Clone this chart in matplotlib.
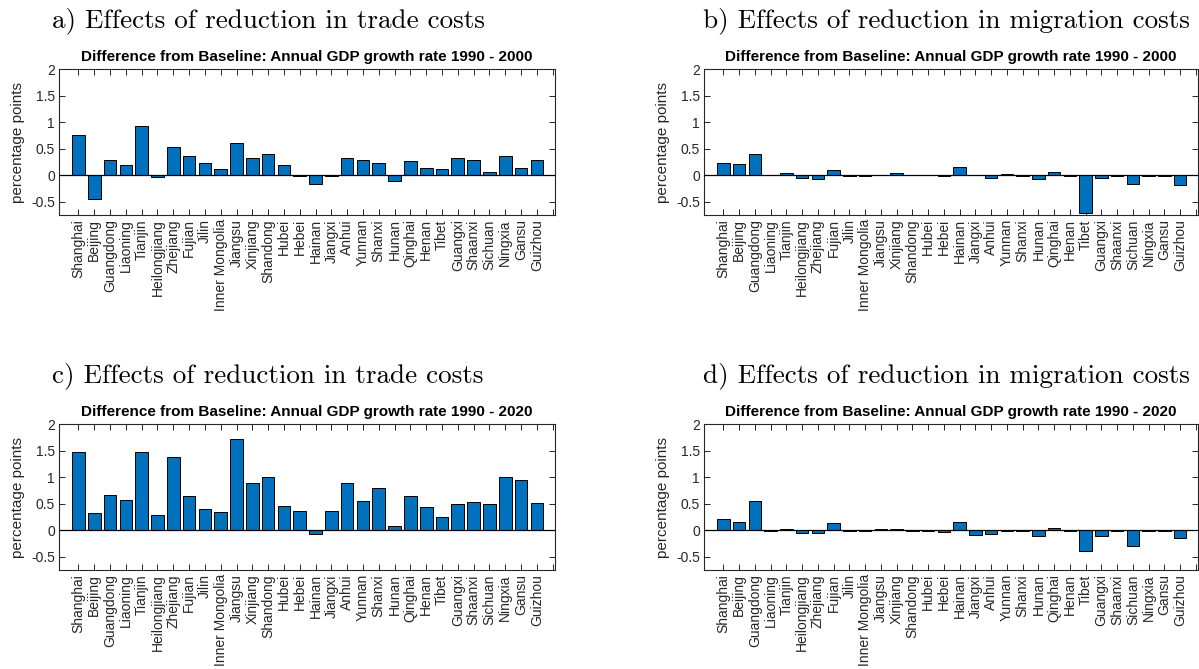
import matplotlib
matplotlib.use("Agg")
import matplotlib.pyplot as plt
import numpy as np

# Provinces in display order
provinces = ["Shanghai", "Beijing", "Guangdong", "Liaoning", "Tianjin", "Heilongjiang",
             "Zhejiang", "Fujian", "Jilin", "Inner Mongolia", "Jiangsu", "Xinjiang",
             "Shandong", "Hubei", "Hebei", "Hainan", "Jiangxi", "Anhui", "Yunnan",
             "Shanxi", "Hunan", "Qinghai", "Henan", "Tibet", "Guangxi", "Shaanxi",
             "Sichuan", "Ningxia", "Gansu", "Guizhou"]

# Difference from baseline, annual GDP growth (percentage points)
trade_1990_2000 = [0.76, -0.45, 0.28, 0.20, 0.93, -0.04, 0.54, 0.36, 0.23, 0.11,
                   0.61, 0.33, 0.40, 0.20, -0.01, -0.17, -0.02, 0.33, 0.29, 0.24,
                   -0.11, 0.27, 0.13, 0.11, 0.32, 0.28, 0.07, 0.37, 0.13, 0.28]
migration_1990_2000 = [0.24, 0.21, 0.40, 0.005, 0.04, -0.055, -0.065, 0.10, -0.02, -0.005,
                       0.01, 0.04, 0.0, 0.01, -0.02, 0.15, 0.0, -0.057, 0.02, -0.01,
                       -0.076, 0.07, -0.01, -0.72, -0.057, -0.015, -0.165, -0.02, -0.005, -0.18]
trade_1990_2020 = [1.48, 0.33, 0.66, 0.58, 1.48, 0.28, 1.38, 0.64, 0.41, 0.34,
                   1.72, 0.90, 1.00, 0.46, 0.37, -0.07, 0.36, 0.89, 0.56, 0.79,
                   0.08, 0.64, 0.44, 0.25, 0.49, 0.54, 0.49, 1.00, 0.94, 0.51]
migration_1990_2020 = [0.215, 0.165, 0.55, -0.01, 0.025, -0.045, -0.06, 0.14, -0.02, -0.01,
                       0.02, 0.02, -0.01, -0.01, -0.03, 0.16, -0.08, -0.07, -0.005, -0.02,
                       -0.11, 0.045, -0.01, -0.39, -0.11, -0.01, -0.30, -0.01, -0.01, -0.145]

panel_titles = ["a) Effects of reduction in trade costs",
                "b) Effects of reduction in migration costs",
                "c) Effects of reduction in trade costs",
                "d) Effects of reduction in migration costs"]
axes_titles = ["Difference from Baseline: Annual GDP growth rate 1990 - 2000",
               "Difference from Baseline: Annual GDP growth rate 1990 - 2000",
               "Difference from Baseline: Annual GDP growth rate 1990 - 2020",
               "Difference from Baseline: Annual GDP growth rate 1990 - 2020"]
series = [trade_1990_2000, migration_1990_2000, trade_1990_2020, migration_1990_2020]

ytick_vals = [-0.5, 0, 0.5, 1, 1.5, 2]
ytick_labels = ["-0.5", "0", "0.5", "1", "1.5", "2"]

W, H = 1199, 669
fig = plt.figure(figsize=(W / 100, H / 100), dpi=100)
fig.patch.set_facecolor("white")

SANS = "Liberation Sans"
SERIF = "cmr10"
AX_COLOR = "#262626"
BAR_COLOR = "#0072BD"

# axes boxes in pixels: left, top, right, bottom
boxes = [(59, 69.3, 555, 215), (704, 69.3, 1198.3, 215),
         (59, 424.3, 555, 570), (704, 424.3, 1198.3, 570)]
title_x = [52, 703, 52, 703]
title_y = [27, 27, 382, 382]

x = np.arange(1, len(provinces) + 1)
tick_pos = np.arange(1, len(provinces) + 2)
tick_lab = provinces + [""]

for i, (l, t, r, b) in enumerate(boxes):
    ax = fig.add_axes([l / W, 1 - b / H, (r - l) / W, (b - t) / H])
    ax.bar(x, series[i], width=0.8, color=BAR_COLOR, edgecolor="black",
           linewidth=0.7, zorder=2)
    ax.axhline(0, color="black", linewidth=0.9, zorder=3)
    ax.set_xlim(-0.23, 31.15)
    ax.set_ylim(-0.75, 2)
    ax.set_xticks(tick_pos)
    ax.set_xticklabels(tick_lab, rotation=90, fontsize=10, family=SANS, color=AX_COLOR)
    ax.set_yticks(ytick_vals)
    ax.set_yticklabels(ytick_labels, fontsize=10, family=SANS, color=AX_COLOR)
    ax.tick_params(direction="in", length=4, width=0.7, color=AX_COLOR,
                   top=True, right=True, pad=3)
    for sp in ax.spines.values():
        sp.set_color(AX_COLOR)
        sp.set_linewidth(0.8)
    ax.set_ylabel("percentage points", fontsize=11, family=SANS, color=AX_COLOR,
                  labelpad=4)
    ax.set_title(axes_titles[i], fontsize=11, family=SANS, fontweight="bold",
                 color="black", pad=6)
    fig.text(title_x[i] / W, 1 - title_y[i] / H, panel_titles[i], family=SERIF,
             fontsize=19.5, ha="left", va="baseline", color="black")

fig.savefig("out.png", dpi=100)
